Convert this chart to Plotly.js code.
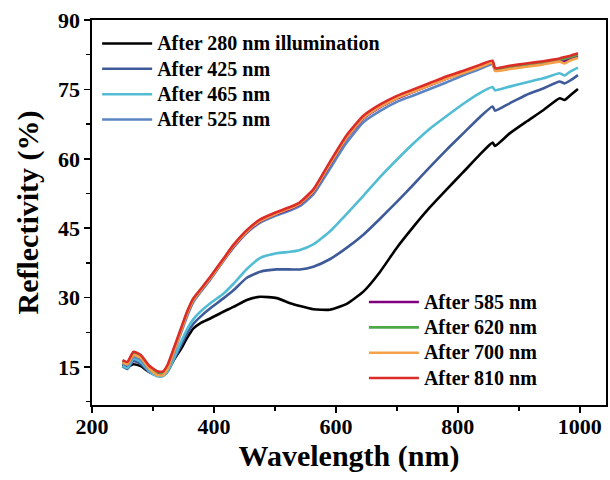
<!DOCTYPE html>
<html>
<head>
<meta charset="utf-8">
<script src="https://cdn.plot.ly/plotly-3.0.1.min.js"></script>
<style>html,body{margin:0;padding:0;background:#fff;}#chart{width:610px;height:480px;}</style>
</head>
<body>
<div id="chart"></div>
<script>
const wavelength = [250,258,268,280,293,307,316,324,334,345,356,366,378,394,416,432,454,476,503,525,541,563,590,617,645,672,700,727,754,781,808,836,857,861,885,912,940,967,975,985,997];

const after280 = [15.5,15.0,15.6,15.2,14.0,13.3,13.3,14.3,16.5,18.7,21.3,23.3,24.5,25.5,27.0,28.0,29.5,30.2,29.9,28.8,28.2,27.5,27.4,28.6,31.3,35.5,40.8,45.3,49.5,53.3,57.0,60.9,63.5,62.8,65.5,68.0,70.5,73.1,72.7,73.8,75.1];
const after425 = [15.2,14.6,16.3,15.7,14.0,13.1,13.1,14.0,16.5,19.4,22.3,24.3,25.9,27.7,29.9,31.6,34.3,35.6,36.1,36.1,36.1,36.7,38.3,40.7,43.6,47.0,50.7,54.4,58.2,61.9,65.4,69.0,71.3,70.4,72.0,73.8,75.2,76.7,76.3,77.0,78.1];
const after465 = [15.3,14.8,16.8,16.1,14.2,13.0,13.0,14.0,16.8,20.1,23.2,25.3,27.0,28.8,30.9,33.0,36.2,38.6,39.6,39.9,40.3,41.5,44.3,48.0,52.0,56.0,59.8,63.3,66.5,69.2,71.8,74.2,75.5,74.8,75.6,76.5,77.4,78.5,78.0,78.9,79.7];
const after525 = [15.8,15.4,17.2,16.6,14.6,13.4,13.3,14.5,17.8,22.0,26.0,29.0,31.2,33.9,38.0,40.8,44.0,46.2,47.8,48.8,49.8,52.3,57.8,63.4,67.9,70.3,72.3,73.7,75.1,76.5,78.0,79.4,80.5,79.2,79.6,80.1,80.6,81.2,80.9,81.5,82.0];
const after585 = [16.1,15.7,17.8,17.2,15.0,13.7,13.6,15.0,18.5,22.6,26.6,29.5,31.5,34.2,38.2,41.0,44.2,46.5,48.1,49.2,50.2,52.9,58.7,64.4,68.7,71.1,73.0,74.5,75.9,77.3,78.6,79.9,80.8,79.3,79.7,80.2,80.7,81.3,81.2,81.7,82.2];
const after620 = [16.3,15.9,18.0,17.4,15.2,13.9,13.8,15.2,18.7,22.8,26.8,29.7,31.7,34.4,38.4,41.3,44.5,46.8,48.4,49.5,50.5,53.2,59.0,64.7,69.0,71.4,73.3,74.8,76.2,77.6,78.8,80.1,81.0,79.4,79.9,80.4,80.9,81.5,81.6,82.0,82.5];
const after700 = [16.0,15.6,17.6,17.0,14.8,13.3,13.2,14.6,18.2,22.4,26.5,29.4,31.5,34.2,38.2,41.1,44.3,46.6,48.2,49.3,50.3,53.0,58.8,64.5,68.8,71.2,73.1,74.5,75.9,77.3,78.5,79.8,80.8,79.0,79.4,79.9,80.4,81.0,80.6,81.3,81.8];
const after810 = [16.5,16.1,18.3,17.6,15.4,14.1,14.0,15.5,19.0,23.0,27.0,29.8,31.8,34.5,38.5,41.4,44.6,46.9,48.5,49.6,50.6,53.4,59.3,65.0,69.3,71.7,73.6,75.0,76.4,77.8,79.0,80.3,81.2,79.6,80.1,80.6,81.1,81.7,82.0,82.3,82.8];

const seriesNames = ['After 280 nm illumination','After 425 nm','After 465 nm','After 525 nm','After 585 nm','After 620 nm','After 700 nm','After 810 nm'];
const seriesValues = [after280, after425, after465, after525, after585, after620, after700, after810];
const seriesColors = ['#000000','#3e5a98','#52bcd4','#5a84c2','#800080','#4ea84a','#f4a14a','#dc2c28'];
const seriesLegend = ['legend','legend','legend','legend','legend2','legend2','legend2','legend2'];

const xTicks = [200,400,600,800,1000];
const yTicks = [15,30,45,60,75,90];

const FONT = 'Liberation Serif, Times New Roman, serif';

const traces = seriesNames.map((name, i) => ({
  x: wavelength,
  y: seriesValues[i],
  type: 'scatter',
  mode: 'lines',
  name: '<span style="font-size:20px">' + name + '</span>',
  legend: seriesLegend[i],
  legendgroup: 'g' + i,
  line: {color: seriesColors[i], width: 2.6, shape: 'spline', smoothing: 0.5}
}));

const legendFont = {family: FONT, size: 17.2, color: '#000', weight: 'bold'};

const layout = {
  width: 610, height: 480,
  margin: {l: 92, r: 4, t: 20, b: 75, pad: 0, autoexpand: false},
  paper_bgcolor: '#fff', plot_bgcolor: '#fff',
  font: {family: FONT, color: '#000'},
  showlegend: true,
  xaxis: {
    range: [200, 1043], tickvals: xTicks, ticktext: xTicks.map(String),
    showgrid: false, zeroline: false,
    showline: true, mirror: true, linecolor: '#000', linewidth: 1.6,
    ticks: 'outside', ticklen: 6, tickwidth: 1.6, tickcolor: '#000',
    ticklabelstandoff: -5,
    minor: {dtick: 100, tick0: 200, ticks: 'outside', ticklen: 4, tickwidth: 1.4, tickcolor: '#000', showgrid: false},
    tickfont: {family: FONT, size: 22, weight: 'bold', color: '#000'},
    title: {text: 'Wavelength (nm)', font: {family: FONT, size: 30, weight: 'bold', color: '#000'}, standoff: 0},
    automargin: false
  },
  yaxis: {
    range: [6.8, 90], tickvals: yTicks, ticktext: yTicks.map(String),
    showgrid: false, zeroline: false,
    showline: true, mirror: true, linecolor: '#000', linewidth: 1.6,
    ticks: 'outside', ticklen: 6, tickwidth: 1.6, tickcolor: '#000',
    minor: {dtick: 7.5, tick0: 15, ticks: 'outside', ticklen: 4, tickwidth: 1.4, tickcolor: '#000', showgrid: false},
    tickfont: {family: FONT, size: 22, weight: 'bold', color: '#000'},
    title: {text: 'Reflectivity (%)', font: {family: FONT, size: 30, weight: 'bold', color: '#000'}, standoff: 10},
    automargin: false
  },
  legend: {
    x: 0.01, y: 0.985, xanchor: 'left', yanchor: 'top',
    bgcolor: 'rgba(0,0,0,0)', borderwidth: 0,
    font: legendFont, itemwidth: 50, tracegroupgap: 0,
    traceorder: 'normal', itemclick: false
  },
  legend2: {
    x: 0.529, y: 0.3135, xanchor: 'left', yanchor: 'top',
    bgcolor: 'rgba(0,0,0,0)', borderwidth: 0,
    font: legendFont, itemwidth: 50, tracegroupgap: 0,
    traceorder: 'normal', itemclick: false
  }
};

Plotly.newPlot('chart', traces, layout, {displayModeBar: false, staticPlot: true});
</script>
</body>
</html>
